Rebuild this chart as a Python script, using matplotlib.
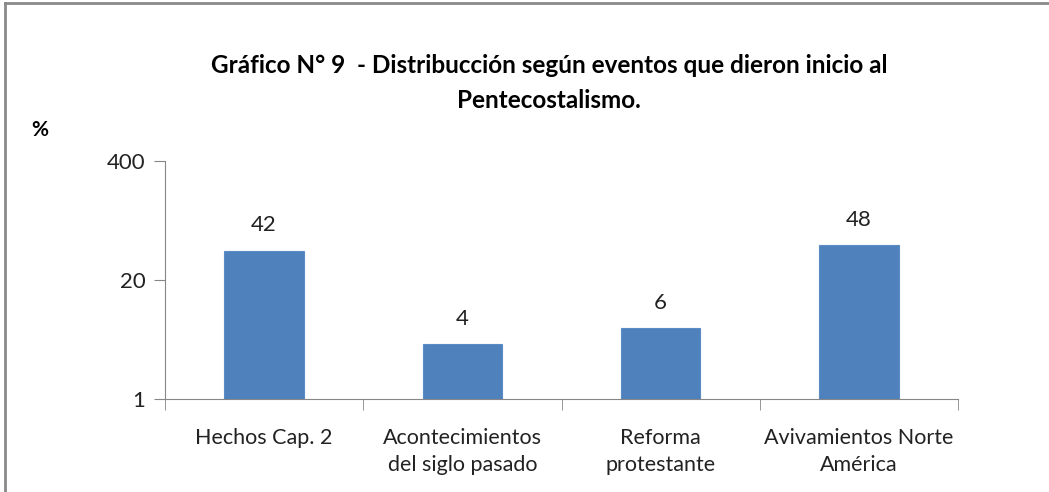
import numpy as np
import matplotlib
matplotlib.use('Agg')
import matplotlib.pyplot as plt
from matplotlib.ticker import FixedLocator, FixedFormatter, NullLocator

categorias = ['Hechos Cap. 2', 'Acontecimientos\ndel siglo pasado',
              'Reforma\nprotestante', 'Avivamientos Norte\nAmérica']
valores = [42, 4, 6, 48]
yticks = [1, 20, 400]
titulo = 'Gráfico N° 9  - Distribucción según eventos que dieron inicio al\nPentecostalismo.'

plt.rcParams['font.family'] = ['Lato', 'DejaVu Sans']

fig = plt.figure(figsize=(10.49, 4.92), dpi=100)
ax = fig.add_axes([165/1049, 1 - 399/492, (958-165)/1049, (399-161)/492])

x = np.arange(len(categorias))
ax.bar(x, valores, width=0.4, color='#4F81BD', edgecolor='#5B8CC8', linewidth=0.8)

ax.set_yscale('log', base=20)
ax.set_ylim(1, 400)
ax.set_xlim(-0.5, len(categorias) - 0.5)
ax.yaxis.set_major_locator(FixedLocator(yticks))
ax.yaxis.set_major_formatter(FixedFormatter([str(t) for t in yticks]))
ax.yaxis.set_minor_locator(NullLocator())

ax.set_xticks(x)
ax.set_xticklabels(categorias, fontsize=15.5, color='#222222', linespacing=1.45)
ax.tick_params(axis='x', length=0, pad=21)
ax.set_xticks(np.arange(-0.5, len(categorias), 1), minor=True)
ax.tick_params(axis='x', which='minor', length=8, direction='out', color='#868686')
ax.tick_params(axis='y', length=8, direction='out', color='#868686', labelsize=16, pad=6, labelcolor='#222222')

for s in ['top', 'right']:
    ax.spines[s].set_visible(False)
for s in ['left', 'bottom']:
    ax.spines[s].set_color('#868686')

for xi, v in zip(x, valores):
    ax.annotate(str(v), (xi, v), xytext=(0, 11), textcoords='offset points',
                ha='center', va='bottom', fontsize=16, color='#222222')

fig.text(549/1049, 1 - 83/492, titulo, ha='center', va='center', fontsize=17.5,
         fontweight='bold', linespacing=1.65)
fig.text(31/1049, 1 - 130/492, '%', ha='left', va='center', fontsize=15, fontweight='bold')

# marco del gráfico
fig.add_artist(plt.Line2D([5/1049, 5/1049], [0, 1 - 3/492], transform=fig.transFigure, color='#8a8a8a', lw=2))
fig.add_artist(plt.Line2D([5/1049, 1], [1 - 3/492, 1 - 3/492], transform=fig.transFigure, color='#8a8a8a', lw=2))

fig.savefig('out.png', dpi=100)
